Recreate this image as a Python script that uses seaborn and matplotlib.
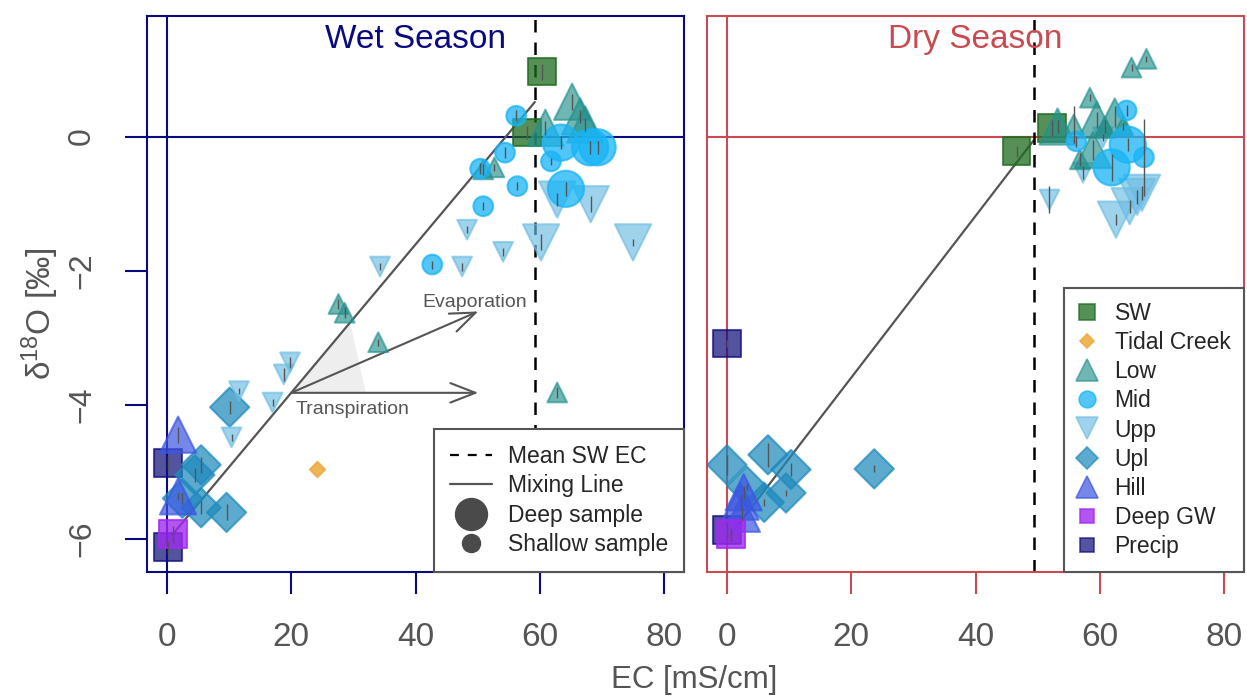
import numpy as np
import pandas as pd
import matplotlib
matplotlib.use("Agg")
import matplotlib.pyplot as plt
from matplotlib.lines import Line2D
import seaborn as sns

# Groups and styling order
groups = ["SW", "Tidal Creek", "Low", "Mid", "Upp", "Upl", "Hill", "Deep GW", "Precip"]
draw_order = ["Precip", "SW", "Upl", "Hill", "Upp", "Low", "Mid", "Tidal Creek", "Deep GW"]

# ---- Wet season samples (EC in mS/cm, d18O in permil) ----
wet_counts = [2, 1, 10, 11, 13, 6, 2, 1, 2]
wet_ec = [60.4, 58.0,                                                     # SW
          24.1,                                                           # Tidal Creek
          65.2, 66.5, 60.9, 67.3, 50.9, 52.7, 27.6, 28.6, 34.0, 62.8,     # Low
          56.2, 54.4, 50.4, 56.4, 50.9, 42.7, 61.8, 63.4, 68.1, 69.3, 64.2,  # Mid
          62.8, 68.2, 60.2, 75.0, 48.3, 54.1, 47.5, 34.3, 19.8, 18.8, 11.6, 17.0, 10.4,  # Upp
          10.1, 5.5, 4.5, 2.5, 5.5, 9.6,                                  # Upl
          1.8, 1.8,                                                       # Hill
          0.9,                                                            # Deep GW
          0.2, 0.2]                                                       # Precip
wet_d18o = [0.97, 0.06,
            -4.96,
            0.52, 0.30, 0.13, 0.18, -0.49, -0.46, -2.50, -2.63, -3.07, -3.82,
            0.31, -0.24, -0.48, -0.74, -1.04, -1.91, -0.37, -0.09, -0.16, -0.16, -0.78,
            -0.94, -1.01, -1.58, -1.58, -1.39, -1.72, -1.94, -1.94, -3.37, -3.55, -3.80, -3.97, -4.49,
            -4.04, -4.90, -5.05, -5.40, -5.54, -5.61,
            -4.45, -5.37,
            -5.94,
            -4.87, -6.13]
wet_depth = ["NA", "NA",
             "NA",
             "Deep", "Deep", "Deep", "Deep", "Shallow", "Shallow", "Shallow", "Shallow", "Shallow", "Shallow",
             "Shallow", "Shallow", "Shallow", "Shallow", "Shallow", "Shallow", "Shallow", "Deep", "Deep", "Deep", "Deep",
             "Deep", "Deep", "Deep", "Deep", "Shallow", "Shallow", "Shallow", "Shallow", "Shallow", "Shallow",
             "Shallow", "Shallow", "Shallow",
             "Deep", "Deep", "Deep", "Deep", "Deep", "Deep",
             "Deep", "Deep",
             "NA",
             "NA", "NA"]
wet_err = [0.12, 0.10,
           0.0,
           0.12, 0.10, 0.10, 0.10, 0.08, 0.05, 0.08, 0.08, 0.05, 0.08,
           0.08, 0.08, 0.08, 0.06, 0.06, 0.06, 0.05, 0.10, 0.10, 0.10, 0.10,
           0.10, 0.12, 0.12, 0.05, 0.05, 0.06, 0.06, 0.05, 0.08, 0.10, 0.05, 0.05, 0.05,
           0.10, 0.12, 0.10, 0.08, 0.10, 0.12,
           0.12, 0.05,
           0.12,
           0.10, 0.10]

# ---- Dry season samples ----
dry_counts = [2, 0, 11, 5, 7, 7, 3, 1, 2]
dry_ec = [46.6, 52.3,                                                     # SW
          65.1, 67.5, 58.4, 53.2, 55.8, 59.5, 62.4, 60.8, 56.8, 58.9, 63.7,  # Low
          64.3, 56.2, 64.5, 61.9, 67.1,                                   # Mid
          60.5, 57.3, 51.9, 62.6, 64.8, 66.0, 66.8,                       # Upp
          0.0, 6.6, 10.3, 9.5, 6.0, 3.2, 23.7,                            # Upl
          2.7, 2.2, 2.4,                                                  # Hill
          0.6,                                                            # Deep GW
          0.0, 0.0]                                                       # Precip
dry_d18o = [-0.22, 0.13,
            1.03, 1.16, 0.58, 0.15, 0.18, 0.25, 0.30, 0.15, -0.34, -0.20, 0.15,
            0.39, -0.07, -0.12, -0.46, -0.31,
            -0.01, -0.54, -0.94, -1.24, -1.04, -0.90, -0.84,
            -4.90, -4.75, -4.97, -5.32, -5.46, -5.22, -4.96,
            -5.31, -5.45, -5.63,
            -5.94,
            -3.09, -5.87]
dry_depth = ["NA", "NA",
             "Shallow", "Shallow", "Shallow", "Deep", "Shallow", "Deep", "Deep", "Shallow", "Shallow", "Deep",
             "Shallow",
             "Shallow", "Shallow", "Deep", "Deep", "Shallow",
             "Shallow", "Shallow", "Shallow", "Deep", "Deep", "Deep", "Deep",
             "Deep", "Deep", "Deep", "Deep", "Deep", "Deep", "Deep",
             "Deep", "Deep", "Deep",
             "NA",
             "NA", "NA"]
dry_err = [0.08, 0.12,
           0.05, 0.05, 0.05, 0.10, 0.27, 0.12, 0.15, 0.10, 0.10, 0.15, 0.05,
           0.08, 0.08, 0.10, 0.20, 0.57,
           0.05, 0.10, 0.20, 0.08, 0.10, 0.10, 0.10,
           0.15, 0.18, 0.10, 0.05, 0.05, 0.05, 0.05,
           0.10, 0.10, 0.10,
           0.10,
           0.05, 0.10]

# Evaporation / transpiration sketch (wet panel)
arrow_start_ec = 20.0
evap_end = (50.1, -2.61)
transp_end_ec = 50.1
wedge_ec = [20.0, 29.5, 32.0]
wedge_d18o_top = -2.78

# ---- styling ----
colors = {"SW": "#1f6b1f", "Tidal Creek": "#EDA93A", "Low": "#24918D", "Mid": "#18B4F5",
          "Upp": "#6CBCE3", "Upl": "#1E8ABD", "Hill": "#3B56E2", "Deep GW": "#A12AF0",
          "Precip": "#10107A"}
markers = {"SW": "s", "Tidal Creek": "D", "Low": "^", "Mid": "o", "Upp": "v",
           "Upl": "D", "Hill": "^", "Deep GW": "s", "Precip": "s"}
alphas = {"SW": 0.75, "Tidal Creek": 0.85, "Low": 0.65, "Mid": 0.75, "Upp": 0.65,
          "Upl": 0.72, "Hill": 0.7, "Deep GW": 0.8, "Precip": 0.72}
big, small = 680, 200
size_maps = {"SW": {"NA": 400}, "Tidal Creek": {"NA": 60}, "Precip": {"NA": 400},
             "Deep GW": {"NA": 400},
             "Upl": {"Deep": 400, "Shallow": 120}}
NAVY = "#0A0A80"
RED = "#C94A50"
GREY = "#555555"

sns.set_theme(style="white")
plt.rcParams["font.family"] = ["Liberation Sans", "DejaVu Sans"]
plt.rcParams["mathtext.fontset"] = "custom"
plt.rcParams["mathtext.rm"] = "Liberation Sans"
plt.rcParams["mathtext.it"] = "Liberation Sans:italic"


def make_df(counts, ec, d18o, depth, err):
    return pd.DataFrame({"group": np.repeat(groups, counts), "ec": ec, "d18o": d18o,
                         "depth": depth, "err": err})


wet = make_df(wet_counts, wet_ec, wet_d18o, wet_depth, wet_err)
dry = make_df(dry_counts, dry_ec, dry_d18o, dry_depth, dry_err)

fig = plt.figure(figsize=(12.47, 6.98), dpi=100)
ax_wet = fig.add_axes([0.1179, 0.1805, 0.4306, 0.7966])
ax_dry = fig.add_axes([0.5670, 0.1805, 0.4306, 0.7966])


def draw_panel(ax, df, col, title):
    ax.axvline(0, color=col, lw=1.5, zorder=0)
    ax.axhline(0, color=col, lw=1.5, zorder=0)
    # mixing line from deep groundwater to mean surface water
    gw = df[df.group == "Deep GW"].iloc[0]
    sw = df[df.group == "SW"]
    sw_ec, sw_d = sw.ec.mean(), sw.d18o.mean()
    ax.plot([gw.ec, sw_ec], [gw.d18o, sw_d], color=GREY, lw=1.6, zorder=1)
    ax.axvline(sw_ec, color="black", lw=1.8, ls=(0, (5, 4)), zorder=1)
    for g in draw_order:
        sub = df[df.group == g]
        if sub.empty:
            continue
        sizes = size_maps.get(g, {"Deep": big, "Shallow": small})
        sns.scatterplot(data=sub, x="ec", y="d18o", size="depth", sizes=sizes,
                        marker=markers[g], color=colors[g], edgecolor=colors[g],
                        linewidth=1.5, alpha=alphas[g], legend=False, ax=ax, zorder=2)
    ax.errorbar(df.ec, df.d18o, yerr=df.err, fmt="none", ecolor=GREY, elinewidth=1.0, zorder=3)
    ax.text(0.5, 0.985, title, transform=ax.transAxes, ha="center", va="top",
            color=col, fontsize=24)
    ax.set_xlim(-3.2, 83.2)
    ax.set_ylim(-6.5, 1.8)
    ax.set_xticks([0, 20, 40, 60, 80])
    ax.set_yticks([-6, -4, -2, 0])
    ax.set_xlabel("")
    ax.set_ylabel("")
    for s in ax.spines.values():
        s.set_color(col)
        s.set_linewidth(1.5)
    ax.tick_params(axis="x", length=16, width=1.5, color=col, labelcolor=GREY,
                   labelsize=24, pad=20, direction="out", bottom=True)
    return sw_ec, sw_d, gw


draw_panel(ax_dry, dry, RED, "Dry Season")
sw_ec, sw_d, gw = draw_panel(ax_wet, wet, NAVY, "Wet Season")

ax_wet.tick_params(axis="y", length=16, width=1.5, color=NAVY, labelcolor=GREY,
                   labelsize=23, pad=20, direction="out", left=True, labelrotation=90)
for lbl in ax_wet.get_yticklabels():
    lbl.set_va("center")
ax_dry.tick_params(axis="y", left=False, labelleft=False)

# evaporation / transpiration arrows from the mixing line
slope = (sw_d - gw.d18o) / (sw_ec - gw.ec)
y0 = gw.d18o + slope * (arrow_start_ec - gw.ec)
ax_wet.fill([wedge_ec[0], wedge_ec[1], wedge_ec[2]], [y0, wedge_d18o_top, y0],
            color="#EEEEEE", zorder=0.5, lw=0)
arrow = dict(arrowstyle="->,head_length=0.9,head_width=0.35", color=GREY, lw=1.5,
             shrinkA=0, shrinkB=0, mutation_scale=20)
ax_wet.annotate("", xy=evap_end, xytext=(arrow_start_ec, y0), arrowprops=arrow, zorder=1)
ax_wet.annotate("", xy=(transp_end_ec, y0), xytext=(arrow_start_ec, y0), arrowprops=arrow, zorder=1)
ax_wet.text(49.5, -2.48, "Evaporation", color=GREY, fontsize=14, ha="center", va="center")
ax_wet.text(29.9, -4.08, "Transpiration", color=GREY, fontsize=14, ha="center", va="center")

# legends
wet_handles = [Line2D([], [], color="black", ls=(0, (4, 4)), lw=1.6),
               Line2D([], [], color=GREY, lw=1.6),
               Line2D([], [], ls="none", marker="o", color="#4a4a4a", markersize=23),
               Line2D([], [], ls="none", marker="o", color="#4a4a4a", markersize=13)]
leg = ax_wet.legend(wet_handles, ["Mean SW EC", "Mixing Line", "Deep sample", "Shallow sample"],
                    loc="lower right", borderaxespad=0, fontsize=16.5, frameon=True,
                    fancybox=False, edgecolor=GREY, framealpha=1, handlelength=1.8,
                    handletextpad=0.7, labelspacing=0.28, borderpad=0.7)
leg.get_frame().set_linewidth(1.5)
leg.set_zorder(5)

leg_ms = {"SW": 11, "Tidal Creek": 7, "Low": 16, "Mid": 12, "Upp": 16, "Upl": 11,
          "Hill": 16, "Deep GW": 10.5, "Precip": 10.5}
dry_handles = [Line2D([], [], ls="none", marker=markers[g], markersize=leg_ms[g],
                      markerfacecolor=colors[g], markeredgecolor=colors[g], alpha=alphas[g],
                      markeredgewidth=1.2) for g in groups]
leg2 = ax_dry.legend(dry_handles, groups, loc="lower right", borderaxespad=0, fontsize=16.5,
                     frameon=True, fancybox=False, edgecolor=GREY, framealpha=1,
                     handlelength=0.8, handletextpad=0.8, labelspacing=0.27, borderpad=0.6)
leg2.get_frame().set_linewidth(1.5)
leg2.set_zorder(5)

fig.text(0.557, 0.026, "EC [mS/cm]", ha="center", va="center", color=GREY, fontsize=22.5)
fig.text(0.032, 0.55, "δ$^{18}$O [‰]", ha="center", va="center", rotation=90,
         color=GREY, fontsize=24)

fig.savefig("out.png", dpi=100)
